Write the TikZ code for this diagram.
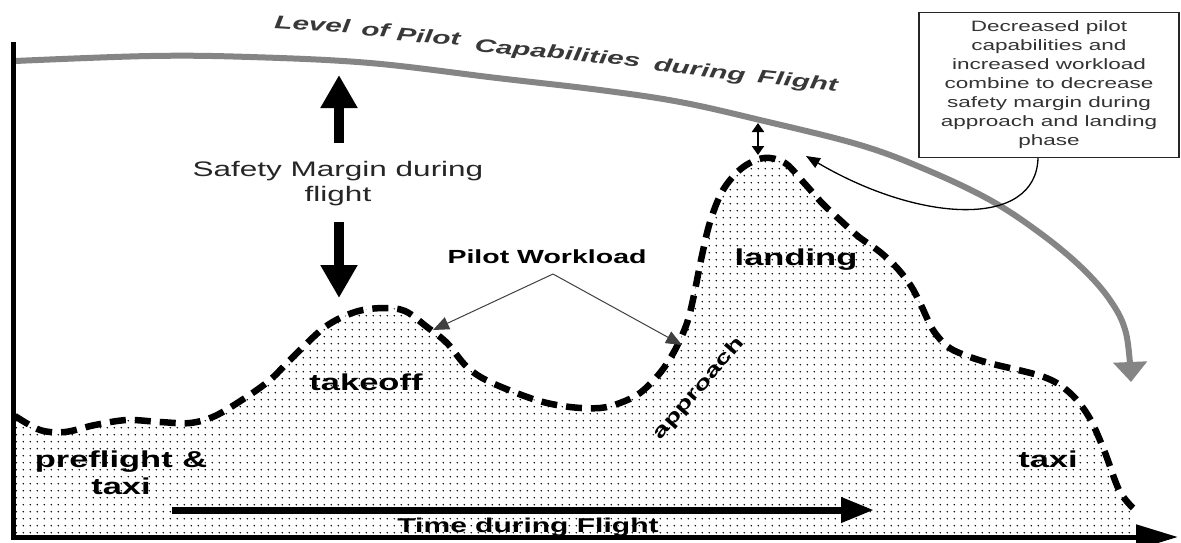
\documentclass[tikz,border=0pt]{standalone}
\usepackage{fontspec}
\setmainfont{Liberation Sans}[FakeStretch=1.5]
\newfontfamily\titlefont{Liberation Sans}[FakeStretch=1.6]
\usetikzlibrary{arrows.meta,patterns.meta}
\tikzdeclarepattern{
  name=sparsedots,
  type=uncolored,
  bottom left={(0pt,0pt)},
  top right={(6.8pt,6.8pt)},
  tile size={(6.8pt,6.8pt)},
  code={\pgfpathcircle{\pgfpoint{3.4pt}{3.4pt}}{0.85pt}\pgfusepath{fill}}
}
\begin{document}
\begin{tikzpicture}[x=1pt,y=-1pt,
  wlcurve/.style={line width=6.5pt, dash pattern=on 16pt off 9pt},
  caplabel/.style={inner sep=0pt, anchor=base, text=black, font=\fontsize{23}{27}\selectfont\bfseries},
  titleword/.style={inner sep=0pt, anchor=base, text=black!78, font=\titlefont\fontsize{18.5}{20}\selectfont\bfseries\itshape},
  bigarrow/.style={line width=10pt, -{Triangle[length=33pt,width=35pt]}},
  thinarrow/.style={line width=1pt, draw=black!75, -{Triangle[length=16pt,width=13pt]}},
  axisline/.style={line width=5pt, -{Triangle[length=42pt,width=24pt]}},
  capline/.style={line width=6pt, draw=black!48, -{Triangle[length=20pt,width=33pt]}, fill=none}
]
\fill[white] (0,0) rectangle (1181,542);
\useasboundingbox (0,0) rectangle (1181,542);

% workload area
\path[pattern=sparsedots, pattern color=black] plot[smooth, tension=0.55] coordinates {
 (15,416) (40,430) (65,432) (95,425) (127,420) (160,422) (190,423) (215,416)
 (245,398) (270,380) (292,358) (325,327) (355,312) (383,308) (405,311) (427,327)
 (447,343) (467,367) (490,382) (536,400) (570,407) (600,408) (620,403) (640,393)
 (660,373) (675,350) (687,323) (694,295) (701,260) (710,222) (723,190) (742,168)
 (764,158) (785,163) (805,184) (822,203) (840,220) (859,237) (880,252) (897,268)
 (911,286) (921,305) (933,330) (947,346) (962,354) (989,363) (1044,377) (1070,393)
 (1089,417) (1104,450) (1119,490) (1133,508)}
 -- (1133,537) -- (15,537) -- cycle;
\draw[wlcurve] plot[smooth, tension=0.55] coordinates {
 (15,416) (40,430) (65,432) (95,425) (127,420) (160,422) (190,423) (215,416)
 (245,398) (270,380) (292,358) (325,327) (355,312) (383,308) (405,311) (427,327)
 (447,343) (467,367) (490,382) (536,400) (570,407) (600,408) (620,403) (640,393)
 (660,373) (675,350) (687,323) (694,295) (701,260) (710,222) (723,190) (742,168)
 (764,158) (785,163) (805,184) (822,203) (840,220) (859,237) (880,252) (897,268)
 (911,286) (921,305) (933,330) (947,346) (962,354) (989,363) (1044,377) (1070,393)
 (1089,417) (1104,450) (1119,490) (1133,508)};

% pilot capability curve
\draw[capline] plot[smooth, tension=0.6] coordinates {
 (15,61) (150,56) (250,57) (370,63) (497,78) (600,90) (680,102) (760,120)
 (860,145) (927,170) (990,200) (1040,233) (1081,267) (1110,300) (1126,333) (1131,382)};
\node[titleword, rotate=-3.5] (t1) at (312,31) {Level};
\node[titleword, rotate=-4] (t2) at (375,36) {of};
\node[titleword, rotate=-4.5] (t3) at (428,43) {Pilot};
\node[titleword, rotate=-5.5] (t4) at (557,59) {Capabilities};
\node[titleword, rotate=-6.5] (t5) at (699,76) {during};
\node[titleword, rotate=-6] (t6) at (797,87) {Flight};

% axes
\coordinate (ytop) at (13,42);
\coordinate (org) at (13,537);
\coordinate (xend) at (1178,537);
\draw[axisline] (ytop) -- (org) -- (xend);

% time arrow
\coordinate (tstart) at (172,510);
\coordinate (tend) at (874,510);
\draw[line width=7pt, -{Triangle[length=33pt,width=24pt]}] (tstart) -- (tend);
\node[caplabel, font=\fontsize{20}{24}\selectfont\bfseries] (time) at (528,532) {Time during Flight};

% phase labels
\node[inner sep=0pt, align=center, font=\fontsize{23}{27}\selectfont\bfseries] (pre) at (121,473) {preflight \&\\taxi};
\node[caplabel] (takeoff) at (366,390) {takeoff};
\node[caplabel] (landing) at (796,265) {landing};
\node[caplabel] (taxi) at (1048,467) {taxi};
\node[inner sep=0pt, rotate=49, font=\fontsize{19}{22}\selectfont\bfseries] (appr) at (699,389) {approach};

% safety margin
\node[inner sep=0pt, align=center, text=black!85, font=\fontsize{21}{25}\selectfont] (safety) at (338,184) {Safety Margin during\\flight};
\coordinate (upbase) at (339,143);
\coordinate (uptip) at (339,75);
\coordinate (dnbase) at (339,222);
\coordinate (dntip) at (339,298);
\draw[bigarrow] (upbase) -- (uptip);
\draw[bigarrow] (dnbase) -- (dntip);

% pilot workload
\node[caplabel, font=\fontsize{19}{22}\selectfont\bfseries] (pw) at (547,263) {Pilot Workload};
\coordinate (apex) at (553,274);
\coordinate (pwl) at (433,330);
\coordinate (pwr) at (682,345);
\draw[thinarrow] (apex) -- (pwl);
\draw[thinarrow] (apex) -- (pwr);

% small margin arrow
\coordinate (mt) at (758,123);
\coordinate (mb) at (758,155);
\draw[line width=2.2pt, {Triangle[length=9pt,width=12pt]}-{Triangle[length=9pt,width=12pt]}] (mt) -- (mb);

% explanation box
\node[draw=black!85, line width=1.2pt, minimum width=260pt, minimum height=145pt, inner sep=0pt,
      align=center, text=black!80, font=\fontsize{15}{19}\selectfont] (box) at (1049,85)
 {Decreased pilot\\capabilities and\\increased workload\\combine to decrease\\safety margin during\\approach and landing\\phase};
\coordinate (cap) at (806,156);
\draw[line width=1.3pt, -{Triangle[length=14pt,width=11pt]}] ([xshift=-11pt]box.south) .. controls (1036,228) and (922,224) .. (cap);
\end{tikzpicture}
\end{document}
